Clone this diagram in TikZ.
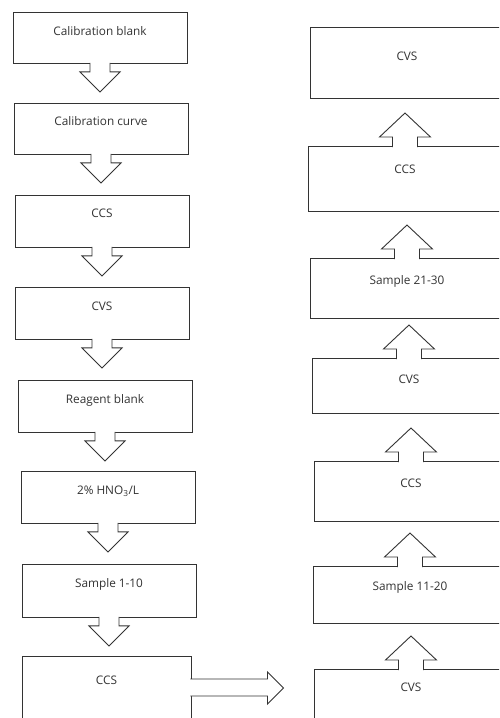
\documentclass[tikz,border=0pt]{standalone}
\usepackage{fontspec}
\setmainfont{Open Sans}
\usepackage{tikz}
\usetikzlibrary{positioning}

\tikzset{
  box/.style 2 args={
    rectangle, draw=black!80, line width=0.9pt, fill=white, anchor=north,
    minimum width=174pt, inner xsep=0pt, inner ysep=0pt,
    text height=#2, text depth=#1-#2, text centered,
    font=\fontsize{11.8}{13}\selectfont, text=black!80
  },
  wide/.style={minimum width=194pt},
  blockarrow/.style={draw=black!80, line width=0.9pt, fill=white, line join=miter}
}

% block arrows hanging off a named box
\newcommand{\blockdown}[1]{%
  \draw[blockarrow] ([xshift=-10pt, yshift=1pt]#1.south) -- ++(0,9) -- ++(-10,0)
    -- ++(20,20) -- ++(20,-20) -- ++(-10,0) -- ++(0,-9);}
\newcommand{\blockup}[1]{%
  \draw[blockarrow] ([xshift=-12.5pt, yshift=-1pt]#1.north) -- ++(0,-10) -- ++(-13,0)
    -- ++(25.5,-24) -- ++(25.5,24) -- ++(-13,0) -- ++(0,10);}

\begin{document}
\begin{tikzpicture}[x=1pt, y=-1pt]
  \useasboundingbox (0,0) rectangle (499,718);
  \clip (0,0) rectangle (499,718);

  % Left column, top to bottom
  \node[box={51pt}{23pt}] (blank)   at (100, 12)  {Calibration blank};
  \node[box={51pt}{22pt}] (curve)   at (101, 103) {Calibration curve};
  \node[box={52pt}{22pt}] (ccsA)    at (102, 195) {CCS};
  \node[box={52pt}{23pt}] (cvsA)    at (102, 287) {CVS};
  \node[box={52pt}{23pt}] (reagent) at (105, 380) {Reagent blank};
  \node[box={52pt}{23pt}] (hno)     at (108, 471) {2\% HNO\textsubscript{3}/L};
  \node[box={53pt}{23pt}] (sampleA) at (109, 564) {Sample 1-10};
  \node[box={90pt}{28pt}, minimum width=169pt] (ccsB) at (106.5, 656) {CCS};

  % Right column, bottom to top
  \node[box={90pt}{22pt}, wide] (cvsB)    at (411, 669) {CVS};
  \node[box={57pt}{24pt}, wide] (sampleB) at (410, 566) {Sample 11-20};
  \node[box={60pt}{26pt}, wide] (ccsC)    at (411, 461) {CCS};
  \node[box={55pt}{25pt}, wide] (cvsC)    at (409, 358) {CVS};
  \node[box={60pt}{26pt}, wide] (sampleC) at (407, 258) {Sample 21-30};
  \node[box={65pt}{27pt}, wide] (ccsD)    at (405, 146) {CCS};
  \node[box={71pt}{33pt}, wide] (cvsD)    at (407, 27)  {CVS};

  % Down arrows
  \blockdown{blank}
  \blockdown{curve}
  \blockdown{ccsA}
  \blockdown{cvsA}
  \blockdown{reagent}
  \blockdown{hno}
  \blockdown{sampleA}

  % Across to the right column
  \draw[blockarrow] ([xshift=-1pt, yshift=-23pt]ccsB.north east) -- ++(77,0) -- ++(0,-7)
    -- ++(16,16) -- ++(-16,16) -- ++(0,-8) -- ++(-77,0);

  % Up arrows
  \blockup{cvsB}
  \blockup{sampleB}
  \blockup{ccsC}
  \blockup{cvsC}
  \blockup{sampleC}
  \blockup{ccsD}
\end{tikzpicture}
\end{document}
